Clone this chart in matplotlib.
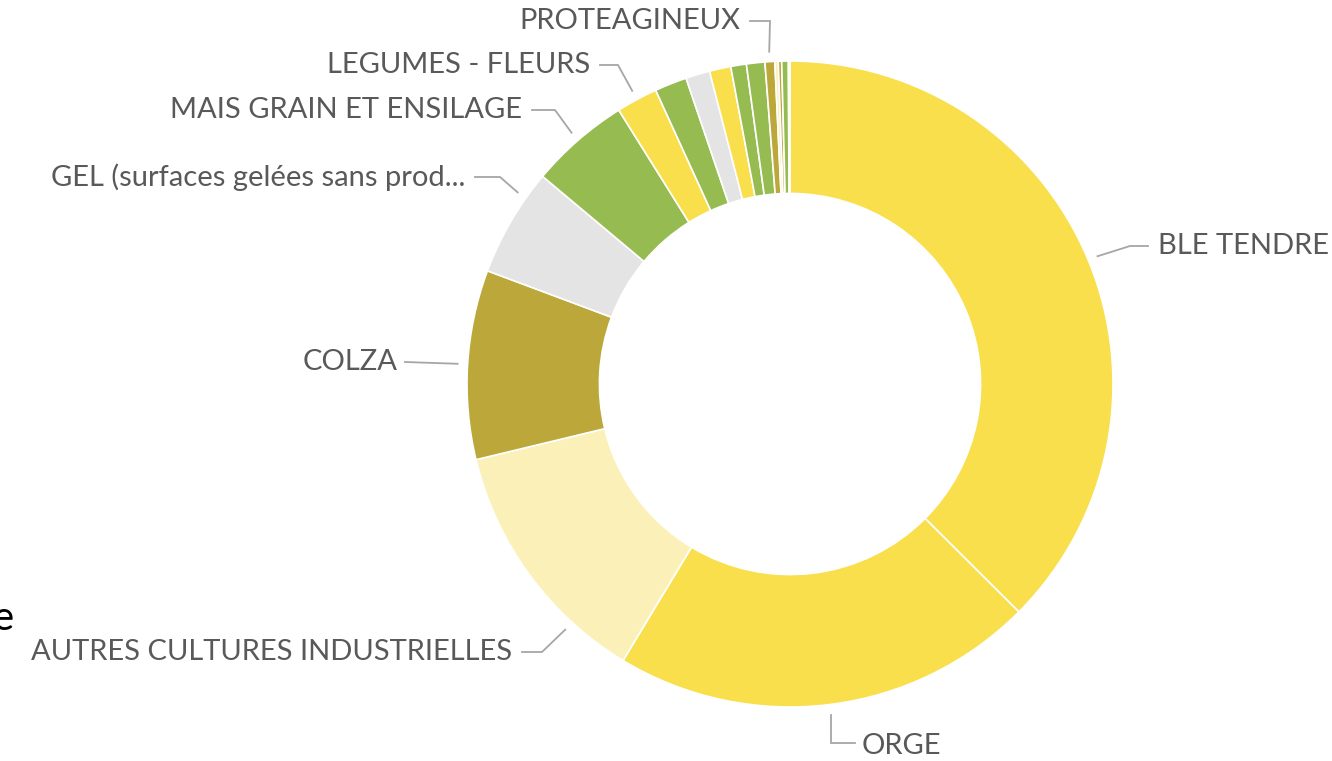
import matplotlib.pyplot as plt
import numpy as np

# -------------------------------
# Data (share of area, %), clockwise from 12 o'clock
# -------------------------------
crops = ['BLE TENDRE', 'ORGE', 'AUTRES CULTURES INDUSTRIELLES', 'COLZA',
         'GEL (surfaces gelées sans prod...', 'MAIS GRAIN ET ENSILAGE',
         'LEGUMES - FLEURS', '', '', '', '', '', 'PROTEAGINEUX', '', '', '', '']
shares = [37.5, 21.2, 12.6, 9.47, 5.42, 5.0, 2.07, 1.61, 1.21, 1.07, 0.78,
          0.92, 0.49, 0.17, 0.17, 0.33, 0.08]
colors = ['#F8DF4B', '#F8DF4B', '#FBF1B8', '#BCA83A', '#E4E4E4', '#95BB51',
          '#F8DF4B', '#95BB51', '#E4E4E4', '#F8DF4B', '#95BB51', '#95BB51',
          '#BCA83A', '#FBF1B8', '#BCA83A', '#95BB51', '#C5DA9A']

# -------------------------------
# Label layout (pixels from top-left): text x, text y, align, elbow x,
# leader offset along the wedge (fraction of wedge, 0.5 = middle)
# -------------------------------
label_pos = {
    'BLE TENDRE': (1158, 246, 'left', 1130, 0.5),
    'ORGE': (862, 746, 'left', None, 0.5),
    'AUTRES CULTURES INDUSTRIELLES': (512, 652, 'right', 542, 0.25),
    'COLZA': (398, 362, 'right', None, 0.5),
    'GEL (surfaces gelées sans prod...': (465, 177, 'right', 500, 0.75),
    'MAIS GRAIN ET ENSILAGE': (522, 110, 'right', 555, 0.5),
    'LEGUMES - FLEURS': (590, 65, 'right', 618, 0.5),
    'PROTEAGINEUX': (740, 21, 'right', 770, 0.5),
}

W, H = 1332, 761
cx, cy, r = 790, H - 384, 323

fig = plt.figure(figsize=(13.32, 7.61), dpi=100)
ax = fig.add_axes([0, 0, 1, 1])

wedges, _ = ax.pie(shares, colors=colors, startangle=90, counterclock=False,
                   center=(cx, cy), radius=r,
                   wedgeprops=dict(width=r * 0.41, edgecolor='white', linewidth=1.2))
ax.set_xlim(0, W)
ax.set_ylim(0, H)
ax.set_aspect('equal')
ax.axis('off')

text_color = '#595959'
line_color = '#A6A6A6'
font = ['Lato', 'DejaVu Sans']

for w, name in zip(wedges, crops):
    if not name:
        continue
    tx, ty, side, ex, frac = label_pos[name]
    ty = H - ty
    # wedges go clockwise: theta2 is the start, theta1 the end
    ang = np.deg2rad(w.theta2 - frac * (w.theta2 - w.theta1))
    px = cx + (r + 10) * np.cos(ang)
    py = cy + (r + 10) * np.sin(ang)
    if name == 'ORGE':
        pts = [(px, py), (px, ty + 3), (tx - 7, ty + 3)]
    elif name == 'COLZA':
        pts = [(px, py), (tx + 7, ty)]
    elif side == 'left':
        pts = [(px, py), (ex, ty), (tx - 10, ty)]
    else:
        pts = [(px, py), (ex, ty), (tx + 10, ty)]
    xs, ys = zip(*pts)
    ax.plot(xs, ys, color=line_color, lw=1.3, solid_joinstyle='miter')
    ax.text(tx, ty, name, ha=side, va='center', fontsize=21,
            color=text_color, family=font)

# cut-off slide text at the left edge
ax.text(13, H - 630, 'e', ha='right', va='baseline', fontsize=29,
        color='black', family=font)

fig.savefig('out.png', dpi=100)
